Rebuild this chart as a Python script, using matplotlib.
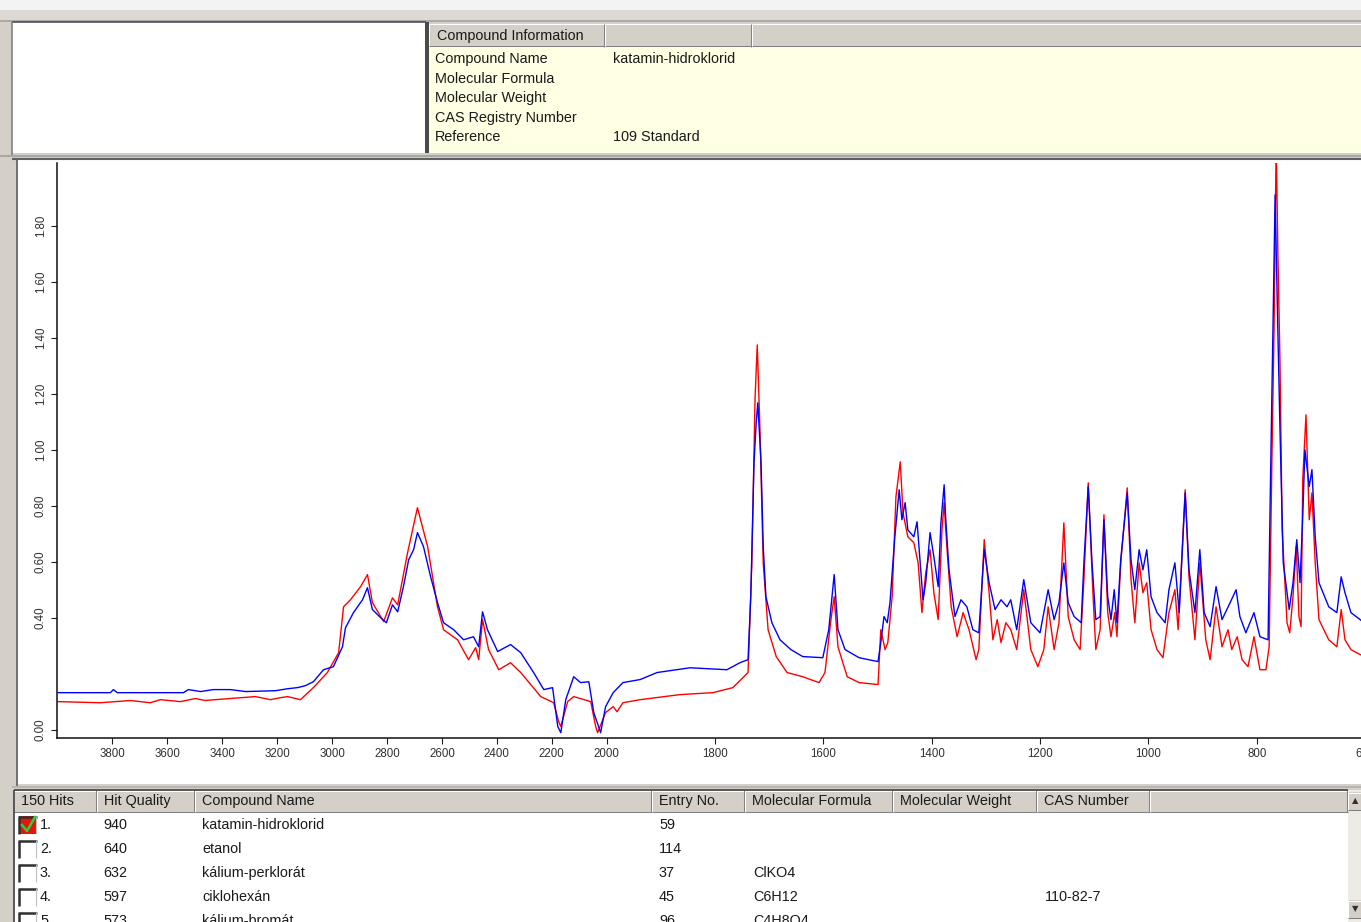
import numpy as np
import matplotlib

matplotlib.use("Agg")
import matplotlib.pyplot as plt
from matplotlib.patches import Rectangle

# --- spectrum data (wavenumber cm-1, absorbance) ---
red_wn = [
    3997, 3844, 3734, 3662, 3625, 3552, 3498, 3461, 3425, 3334,
    3279, 3224, 3188, 3162, 3115, 3068, 3017, 2976, 2958, 2933,
    2896, 2871, 2853, 2812, 2780, 2761, 2725, 2689, 2652, 2616,
    2594, 2543, 2503, 2477, 2466, 2452, 2430, 2393, 2350, 2313,
    2240, 2193, 2175, 2167, 2142, 2120, 2058, 2040, 2033, 2004,
    1988, 1981, 1970, 1938, 1865, 1804, 1767, 1739, 1732, 1726,
    1722, 1717, 1711, 1702, 1687, 1667, 1638, 1608, 1597, 1586,
    1580, 1573, 1556, 1534, 1499, 1494, 1486, 1481, 1473, 1466,
    1458, 1453, 1444, 1433, 1425, 1418, 1411, 1403, 1396, 1388,
    1381, 1377, 1372, 1364, 1353, 1342, 1331, 1318, 1313, 1303,
    1294, 1287, 1279, 1272, 1263, 1254, 1243, 1230, 1217, 1204,
    1193, 1185, 1174, 1165, 1156, 1148, 1137, 1126, 1119, 1111,
    1102, 1097, 1089, 1082, 1075, 1069, 1062, 1058, 1051, 1039,
    1032, 1025, 1017, 1010, 1003, 995, 984, 973, 962, 951,
    945, 932, 925, 914, 905, 894, 886, 875, 864, 853,
    846, 836, 827, 816, 805, 794, 783, 777, 772, 768,
    764, 761, 757, 753, 744, 739, 733, 727, 722, 718,
    715, 709, 703, 698, 692, 685, 667, 652, 644, 637,
    626, 609, 598,
]
red_abs = [
    0.100, 0.096, 0.104, 0.096, 0.107, 0.100, 0.111, 0.104, 0.107, 0.114,
    0.118, 0.107, 0.114, 0.118, 0.107, 0.150, 0.204, 0.275, 0.439, 0.464,
    0.511, 0.554, 0.454, 0.386, 0.471, 0.446, 0.632, 0.793, 0.654, 0.439,
    0.357, 0.321, 0.250, 0.293, 0.250, 0.393, 0.286, 0.214, 0.239, 0.204,
    0.118, 0.096, 0.029, 0.011, 0.100, 0.118, 0.100, 0.011, -0.011, 0.061,
    0.082, 0.064, 0.096, 0.107, 0.125, 0.132, 0.150, 0.204, 0.596, 1.189,
    1.375, 1.071, 0.596, 0.357, 0.261, 0.204, 0.189, 0.168, 0.204, 0.393,
    0.475, 0.296, 0.189, 0.168, 0.161, 0.357, 0.286, 0.311, 0.475, 0.832,
    0.957, 0.775, 0.689, 0.668, 0.596, 0.418, 0.561, 0.643, 0.489, 0.393,
    0.714, 0.811, 0.654, 0.439, 0.332, 0.418, 0.357, 0.250, 0.286, 0.679,
    0.489, 0.321, 0.393, 0.311, 0.382, 0.357, 0.286, 0.500, 0.286, 0.225,
    0.286, 0.439, 0.286, 0.382, 0.739, 0.404, 0.321, 0.286, 0.536, 0.882,
    0.475, 0.286, 0.357, 0.768, 0.418, 0.332, 0.418, 0.332, 0.596, 0.864,
    0.536, 0.382, 0.596, 0.489, 0.525, 0.357, 0.286, 0.257, 0.418, 0.500,
    0.357, 0.857, 0.546, 0.321, 0.596, 0.321, 0.250, 0.439, 0.296, 0.357,
    0.286, 0.332, 0.250, 0.225, 0.332, 0.214, 0.214, 0.296, 0.954, 1.429,
    2.100, 1.714, 1.311, 0.714, 0.382, 0.346, 0.475, 0.654, 0.404, 0.368,
    0.893, 1.125, 0.750, 0.846, 0.596, 0.393, 0.321, 0.296, 0.429, 0.321,
    0.286, 0.268, 0.261,
]

blue_wn = [
    3997, 3807, 3796, 3782, 3541, 3523, 3479, 3432, 3370, 3315,
    3206, 3162, 3126, 3097, 3068, 3031, 2995, 2962, 2951, 2922,
    2889, 2871, 2853, 2823, 2802, 2780, 2761, 2740, 2721, 2703,
    2689, 2667, 2641, 2616, 2594, 2557, 2521, 2485, 2466, 2452,
    2434, 2397, 2350, 2313, 2266, 2229, 2197, 2178, 2167, 2149,
    2120, 2095, 2065, 2047, 2022, 2004,
    1988, 1970, 1938, 1907, 1846, 1778, 1754, 1739, 1734, 1728,
    1724, 1721, 1715, 1711, 1706, 1695, 1680, 1660, 1638, 1601,
    1590, 1580, 1573, 1560, 1534, 1499, 1494, 1488, 1482, 1477,
    1468, 1460, 1455, 1449, 1444, 1433, 1427, 1422, 1416, 1411,
    1403, 1396, 1388, 1383, 1377, 1374, 1368, 1357, 1346, 1335,
    1324, 1313, 1303, 1294, 1283, 1272, 1261, 1254, 1243, 1230,
    1217, 1200, 1185, 1174, 1165, 1156, 1148, 1137, 1124, 1119,
    1111, 1104, 1097, 1089, 1082, 1075, 1069, 1063, 1058, 1051,
    1039, 1032, 1025, 1017, 1010, 1003, 995, 984, 969, 962,
    951, 943, 932, 925, 914, 905, 897, 886, 875, 864,
    849, 838, 831, 820, 805, 794, 779, 775, 770, 766,
    761, 757, 751, 740, 733, 726, 720, 715, 711, 703,
    698, 692, 685, 667, 652, 644, 637, 626, 609, 598,
]
blue_abs = [
    0.132, 0.132, 0.143, 0.132, 0.132, 0.143, 0.136, 0.143, 0.143, 0.136,
    0.139, 0.146, 0.150, 0.157, 0.171, 0.214, 0.225, 0.296, 0.364, 0.418,
    0.464, 0.507, 0.429, 0.400, 0.382, 0.446, 0.421, 0.511, 0.607, 0.643,
    0.704, 0.654, 0.546, 0.454, 0.382, 0.357, 0.321, 0.332, 0.296, 0.421,
    0.357, 0.279, 0.304, 0.275, 0.204, 0.143, 0.150, 0.011, -0.011, 0.107,
    0.189, 0.168, 0.171, 0.061, -0.011, 0.082,
    0.132, 0.168, 0.179, 0.204, 0.221, 0.214, 0.239, 0.250, 0.475, 0.954,
    1.096, 1.168, 0.954, 0.654, 0.475, 0.382, 0.321, 0.286, 0.261, 0.257,
    0.357, 0.554, 0.357, 0.286, 0.257, 0.243, 0.311, 0.404, 0.382, 0.454,
    0.689, 0.857, 0.750, 0.811, 0.714, 0.689, 0.743, 0.618, 0.464, 0.525,
    0.704, 0.618, 0.511, 0.739, 0.875, 0.750, 0.571, 0.404, 0.464, 0.439,
    0.357, 0.346, 0.643, 0.525, 0.429, 0.464, 0.439, 0.464, 0.357, 0.536,
    0.382, 0.346, 0.500, 0.393, 0.454, 0.596, 0.454, 0.404, 0.382, 0.596,
    0.868, 0.596, 0.393, 0.404, 0.750, 0.475, 0.393, 0.500, 0.382, 0.607,
    0.846, 0.607, 0.500, 0.643, 0.571, 0.643, 0.475, 0.418, 0.382, 0.500,
    0.596, 0.418, 0.846, 0.571, 0.418, 0.643, 0.418, 0.368, 0.511, 0.393,
    0.454, 0.500, 0.404, 0.346, 0.418, 0.332, 0.321, 0.832, 1.429, 1.911,
    1.429, 1.071, 0.596, 0.429, 0.525, 0.679, 0.525, 0.761, 1.000, 0.868,
    0.929, 0.689, 0.525, 0.439, 0.418, 0.546, 0.489, 0.418, 0.393, 0.375,
]
assert len(red_wn) == len(red_abs) and len(blue_wn) == len(blue_abs)

x_ticks = [3800, 3600, 3400, 3200, 3000, 2800, 2600, 2400, 2200, 2000,
           1800, 1600, 1400, 1200, 1000, 800, 600]
y_ticks = [0.0, 0.4, 0.6, 0.8, 1.0, 1.2, 1.4, 1.6, 1.8]

info_labels = ["Compound Name", "Molecular Formula", "Molecular Weight",
               "CAS Registry Number", "Reference"]
info_values = ["katamin-hidroklorid", "", "", "", "109 Standard"]

hit_headers = ["150 Hits", "Hit Quality", "Compound Name", "Entry No.",
               "Molecular Formula", "Molecular Weight", "CAS Number"]
hit_rank = ["1.", "2.", "3.", "4.", "5."]
hit_quality = ["940", "640", "632", "597", "573"]
hit_names = ["katamin-hidroklorid", "etanol", "kálium-perklorát", "ciklohexán", "kálium-bromát"]
hit_entry = ["59", "114", "37", "45", "96"]
hit_formula = ["", "", "ClKO4", "C6H12", "C4H8O4"]
hit_cas = ["", "", "", "110-82-7", ""]

# --- look ---
W, H = 1361, 922
FRAME = "#d4d0c8"
DARK = "#808080"
YELLOW = "#ffffe3"
FONT = "Liberation Sans"
FS = 10.4
HIGH_COMPRESS = 0.507  # OMNIC halves the scale above 2000 cm-1


def fwd(w):
    w = np.asarray(w, dtype=float)
    return np.where(w > 2000, 2000 + (w - 2000) * HIGH_COMPRESS, w)


def inv(t):
    t = np.asarray(t, dtype=float)
    return np.where(t > 2000, 2000 + (t - 2000) / HIGH_COMPRESS, t)


fig = plt.figure(figsize=(W / 100, H / 100), dpi=100, facecolor=FRAME)
ui = fig.add_axes([0, 0, 1, 1])
ui.set_xlim(0, W)
ui.set_ylim(H, 0)
ui.axis("off")


def rect(x0, y0, x1, y1, fc, ec="none", lw=0.0, z=1):
    ui.add_patch(Rectangle((x0, y0), x1 - x0, y1 - y0, facecolor=fc,
                           edgecolor=ec, linewidth=lw, zorder=z))


def line(xs, ys, c, lw=0.75, z=2):
    ui.plot(xs, ys, color=c, linewidth=lw, zorder=z, solid_capstyle="butt")


def label(x, y, s, **kw):
    ui.text(x, y, s, fontsize=kw.pop("fs", FS), family=FONT, color="#1a1a1a",
            va="center", ha="left", zorder=5, **kw)


def header_cell(x0, x1, y0, y1):
    rect(x0, y0, x1, y1, FRAME)
    line([x0, x1], [y0 + 0.5, y0 + 0.5], "white")
    line([x0 + 0.5, x0 + 0.5], [y0, y1], "white")
    line([x1 - 0.5, x1 - 0.5], [y0, y1], DARK)
    line([x0, x1], [y1 - 0.5, y1 - 0.5], DARK)


# top strip
rect(0, 0, W, 10, "#f3f3f3")
rect(0, 10, W, 21, "#dcd9d3")
line([0, W], [21, 21], "#a0a0a0", lw=1.2)

# top-left empty box and compound info panel
rect(12, 22, 426, 155, "white")
line([12, 426], [22.5, 22.5], "#505050", lw=1.2)
line([12.5, 12.5], [22, 155], DARK, lw=1.2)
rect(425, 22, 429, 156, "#4a4a4a")
header_cell(429, 605, 24, 47)
header_cell(605, 752, 24, 47)
header_cell(752, W + 2, 24, 47)
label(437, 36, "Compound Information")
rect(429, 47, W, 153, YELLOW)
for i, (lab, val) in enumerate(zip(info_labels, info_values)):
    yy = 59 + i * 19.6
    label(435, yy, lab)
    label(613, yy, val)

# band between panels
rect(0, 153, W, 160, FRAME)
line([0, W], [156, 156], "#a8a8a8", lw=1.5)
line([12, W], [159, 159], "#606060", lw=1.5)

# chart panel
rect(12, 160, W, 786, "white")
rect(12, 160, 18, 786, FRAME)
line([17.5, 17.5], [160, 786], "#606060", lw=1.2)

# band below chart
rect(0, 784, W, 790, FRAME)
line([12, W], [786.5, 786.5], "#b0b0b0", lw=1.2)

# hit list
rect(14, 812, 1348, H, "white")
col_x = [14, 97, 195, 652, 745, 893, 1037, 1150]
for i in range(len(col_x) - 1):
    header_cell(col_x[i], col_x[i + 1], 790, 812)
    label(col_x[i] + 7, 801, hit_headers[i])
header_cell(1150, 1348, 790, 812)
line([14, 1348], [789.5, 789.5], "#404040", lw=1.2)
line([14.5, 14.5], [790, H], "#404040", lw=1.2)

# scrollbar
rect(1348, 790, W, H, "#ecebe6")
header_cell(1348, W + 1, 792, 810)
header_cell(1348, W + 1, 900, 918)
ui.text(1355, 801, "▲", fontsize=6, ha="center", va="center", color="#303030", zorder=6)
ui.text(1355, 909, "▼", fontsize=6, ha="center", va="center", color="#303030", zorder=6)

for i in range(len(hit_rank)):
    yc = 825 + i * 24
    # checkbox
    fc = "#e8140c" if i == 0 else "white"
    rect(19, yc - 9, 37, yc + 9, fc, z=3)
    line([19, 37], [yc - 8.5, yc - 8.5], "#303030", lw=1.8, z=4)
    line([19.5, 19.5], [yc - 9, yc + 9], "#303030", lw=1.8, z=4)
    line([36.5, 36.5], [yc - 9, yc + 9], "#c0c0c0", lw=0.8, z=4)
    if i == 0:
        ui.plot([22, 27, 35], [yc, yc + 6, yc - 8], color="#2ecc40", lw=1.8, zorder=5)
    label(40, yc, hit_rank[i])
    label(103, yc, hit_quality[i])
    label(202, yc, hit_names[i])
    label(659, yc, hit_entry[i])
    label(753, yc, hit_formula[i])
    label(1045, yc, hit_cas[i])

# --- spectrum axes ---
ax_left, ax_right = 57.4, 1386.7
ax_top, ax_bottom = 163, 738
ax = fig.add_axes([ax_left / W, (H - ax_bottom) / H,
                   (ax_right - ax_left) / W, (ax_bottom - ax_top) / H])
ax.set_zorder(2)
ax.set_facecolor("none")
ax.set_xscale("function", functions=(fwd, inv))
ax.set_xlim(4000, 560)
ax.set_ylim(-0.03, 2.025)

ax.plot(red_wn, red_abs, color="#ff0000", linewidth=1.0)
ax.plot(blue_wn, blue_abs, color="#0000ff", linewidth=1.0)

ax.set_xticks(x_ticks)
ax.set_xticklabels([str(t) for t in x_ticks])
ax.set_yticks(y_ticks)
ax.set_yticklabels([f"{t:.2f}" for t in y_ticks], rotation=90, va="center")
ax.xaxis.set_minor_locator(matplotlib.ticker.NullLocator())
ax.tick_params(axis="both", direction="out", length=4.5, width=0.8,
               colors="#202020", labelsize=8.3, labelcolor="#303030", pad=3)
for t in ax.get_xticklabels() + ax.get_yticklabels():
    t.set_family(FONT)
for side in ("top", "right"):
    ax.spines[side].set_visible(False)
for side in ("left", "bottom"):
    ax.spines[side].set_linewidth(1.1)
    ax.spines[side].set_color("#101010")

fig.savefig("out.png", dpi=100, facecolor=FRAME)
